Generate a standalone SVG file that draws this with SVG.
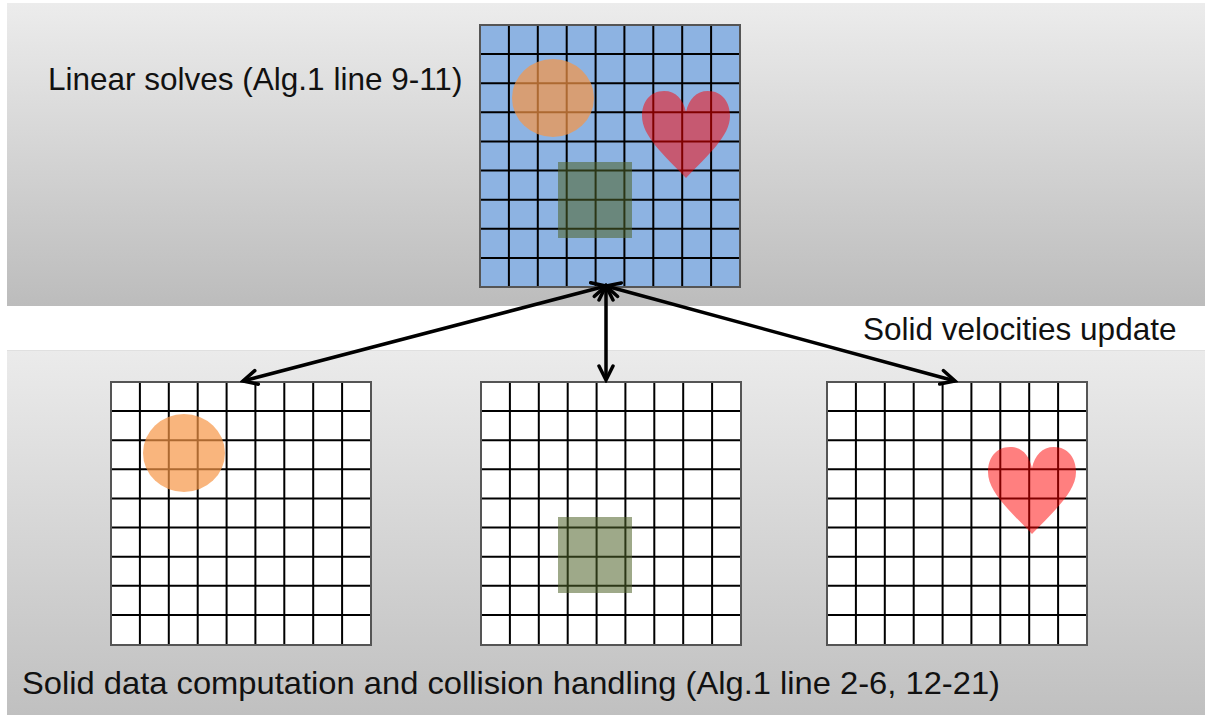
<svg xmlns="http://www.w3.org/2000/svg" xmlns:xlink="http://www.w3.org/1999/xlink" width="1205" height="715" viewBox="0 0 1205 715">
  <style>
    .lbl { font-family: "Liberation Sans", Arial, sans-serif; font-size: 31.5px; fill: #111; }
    .gl { stroke: #000; stroke-width: 2; fill: none; }
    .frame { stroke: #555; stroke-width: 2; }
    .conn { stroke: #000; stroke-width: 3.5; fill: none; marker-start: url(#arr); marker-end: url(#arr); }
    .circle { fill: #f79646; fill-opacity: 0.7; }
    .square { fill: #4f6228; fill-opacity: 0.55; }
    .heart { fill: #ff0000; fill-opacity: 0.5; }
  </style>
  <defs>
    <linearGradient id="gTop" x1="0" y1="0" x2="0" y2="1">
      <stop offset="0" stop-color="#ececec"/>
      <stop offset="1" stop-color="#bcbcbc"/>
    </linearGradient>
    <linearGradient id="gBot" x1="0" y1="0" x2="0" y2="1">
      <stop offset="0" stop-color="#ebebeb"/>
      <stop offset="1" stop-color="#c0c0c0"/>
    </linearGradient>
    <marker id="arr" viewBox="0 0 20 20" refX="17" refY="10" markerWidth="20" markerHeight="20" markerUnits="userSpaceOnUse" orient="auto-start-reverse">
      <path d="M3,3 L17,10 L3,17" fill="none" stroke="#000" stroke-width="3.5" stroke-linejoin="miter" stroke-linecap="round"/>
    </marker>
    <g id="gridlines">
      <path class="gl" d="M28.9,0V262 M57.8,0V262 M86.7,0V262 M115.6,0V262 M144.4,0V262 M173.3,0V262 M202.2,0V262 M231.1,0V262 M0,29.1H260 M0,58.2H260 M0,87.3H260 M0,116.4H260 M0,145.6H260 M0,174.7H260 M0,203.8H260 M0,232.9H260"/>
    </g>
    <path id="heartShape" d="M0,21 C-3,8 -10,0 -22,0 C-36,0 -44,11 -44,25 C-44,45 -22,64 0,87 C22,64 44,45 44,25 C44,11 36,0 22,0 C10,0 3,8 0,21 Z"/>
  </defs>

  <!-- panels -->
  <rect x="7" y="3" width="1198" height="303" fill="url(#gTop)"/>
  <rect x="7" y="350" width="1198" height="365" fill="url(#gBot)"/>
  <line x1="7" y1="350.5" x2="1205" y2="350.5" stroke="#e0e0e0" stroke-width="1"/>

  <!-- top grid node -->
  <g id="grid-linear">
    <rect x="480" y="25" width="260" height="262" fill="#8db3e2"/>
    <use xlink:href="#gridlines" transform="translate(480,25)"/>
    <rect class="frame" x="480" y="25" width="260" height="262" fill="none"/>
    <ellipse class="circle" cx="553" cy="98" rx="41" ry="39"/>
    <rect class="square" x="558" y="162" width="74" height="76"/>
    <use xlink:href="#heartShape" class="heart" transform="translate(686,91)"/>
  </g>

  <!-- bottom grids -->
  <g id="grid-circle">
    <rect x="111" y="382" width="260" height="263" fill="#fff"/>
    <use xlink:href="#gridlines" transform="translate(111,382)"/>
    <rect class="frame" x="111" y="382" width="260" height="263" fill="none"/>
    <ellipse class="circle" cx="184" cy="453" rx="41" ry="39"/>
  </g>
  <g id="grid-square">
    <rect x="481" y="382" width="260" height="263" fill="#fff"/>
    <use xlink:href="#gridlines" transform="translate(481,382)"/>
    <rect class="frame" x="481" y="382" width="260" height="263" fill="none"/>
    <rect class="square" x="558" y="517" width="74" height="76"/>
  </g>
  <g id="grid-heart">
    <rect x="827" y="382" width="260" height="263" fill="#fff"/>
    <use xlink:href="#gridlines" transform="translate(827,382)"/>
    <rect class="frame" x="827" y="382" width="260" height="263" fill="none"/>
    <use xlink:href="#heartShape" class="heart" transform="translate(1032,447)"/>
  </g>

  <!-- connectors -->
  <g id="connectors">
    <line class="conn" x1="606" y1="286" x2="243" y2="381"/>
    <line class="conn" x1="606" y1="286" x2="606" y2="380"/>
    <line class="conn" x1="606" y1="286" x2="955" y2="381"/>
  </g>

  <!-- labels -->
  <g id="labels">
    <text class="lbl" x="48" y="90">Linear solves (Alg.1 line 9-11)</text>
    <text class="lbl" x="863" y="340">Solid velocities update</text>
    <text class="lbl" x="22" y="694" textLength="978" lengthAdjust="spacingAndGlyphs">Solid data computation and collision handling (Alg.1 line 2-6, 12-21)</text>
  </g>
</svg>
